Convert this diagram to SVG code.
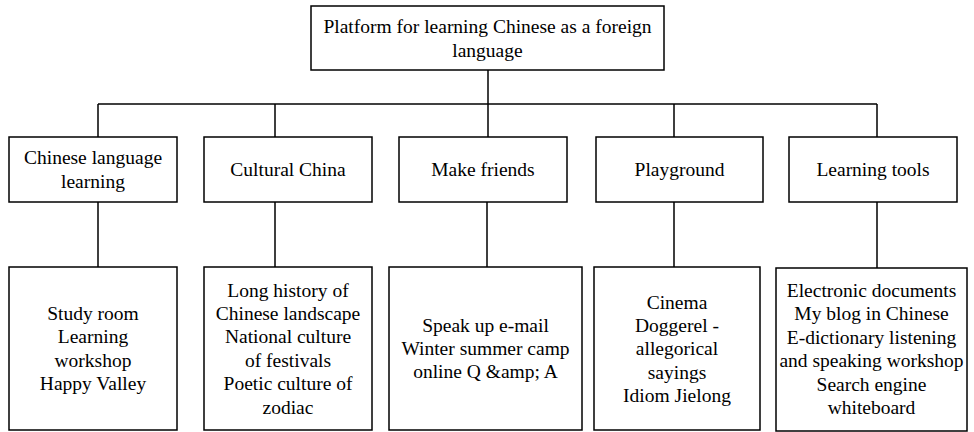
<svg xmlns="http://www.w3.org/2000/svg" width="974" height="432" viewBox="0 0 974 432" font-family="'Liberation Serif', serif" font-size="19.5">
  <style>
    .box { fill: #ffffff; stroke: #000000; stroke-width: 1.5; }
    .wire { fill: none; stroke: #000000; stroke-width: 1.5; }
    .t { font-family: 'Liberation Serif', serif; font-size: 19.5px; fill: #000000; text-anchor: middle; }
  </style>
  <rect x="0" y="0" width="974" height="432" fill="#ffffff"/>

  <!-- connectors -->
  <g id="connectors" class="wire">
    <path d="M488 70 V104"/>
    <path d="M98 104 H877"/>
    <path d="M98 104 V137 M275 104 V137 M488 104 V137 M674 104 V137 M877 104 V137"/>
    <path d="M98 202 V267 M275 202 V267 M487 202 V267 M674 202 V267 M877 202 V268"/>
  </g>

  <!-- root -->
  <g id="root" class="t">
    <rect class="box" x="311" y="6" width="353" height="64"/>
    <text x="487.5" y="33">Platform for learning Chinese as a foreign</text>
    <text x="487.5" y="57">language</text>
  </g>

  <!-- second level -->
  <g id="chinese-language-learning" class="t">
    <rect class="box" x="9" y="137" width="168" height="65"/>
    <text x="93" y="164">Chinese language</text>
    <text x="93" y="188">learning</text>
  </g>
  <g id="cultural-china" class="t">
    <rect class="box" x="204" y="137" width="168" height="65"/>
    <text x="288" y="176">Cultural China</text>
  </g>
  <g id="make-friends" class="t">
    <rect class="box" x="399" y="137" width="168" height="65"/>
    <text x="483" y="176">Make friends</text>
  </g>
  <g id="playground" class="t">
    <rect class="box" x="596" y="137" width="167" height="65"/>
    <text x="679.5" y="176">Playground</text>
  </g>
  <g id="learning-tools" class="t">
    <rect class="box" x="789" y="137" width="168" height="65"/>
    <text x="873" y="176">Learning tools</text>
  </g>

  <!-- third level -->
  <g id="study-items" class="t">
    <rect class="box" x="9" y="267" width="168" height="163"/>
    <text x="93" y="320">Study room</text>
    <text x="93" y="343.4">Learning</text>
    <text x="93" y="366.8">workshop</text>
    <text x="93" y="390.2">Happy Valley</text>
  </g>
  <g id="culture-items" class="t">
    <rect class="box" x="204" y="267" width="168" height="163"/>
    <text x="288" y="296.5">Long history of</text>
    <text x="288" y="319.9">Chinese landscape</text>
    <text x="288" y="343.3">National culture</text>
    <text x="288" y="366.7">of festivals</text>
    <text x="288" y="390.1">Poetic culture of</text>
    <text x="288" y="413.5">zodiac</text>
  </g>
  <g id="friends-items" class="t">
    <rect class="box" x="389" y="267" width="193" height="163"/>
    <text x="485.5" y="331.5">Speak up e-mail</text>
    <text x="485.5" y="354.9">Winter summer camp</text>
    <text x="485.5" y="378.3">online Q &amp;amp; A</text>
  </g>
  <g id="playground-items" class="t">
    <rect class="box" x="594" y="267" width="166" height="163"/>
    <text x="677" y="308.5">Cinema</text>
    <text x="677" y="331.9">Doggerel -</text>
    <text x="677" y="355.3">allegorical</text>
    <text x="677" y="378.7">sayings</text>
    <text x="677" y="402.1">Idiom Jielong</text>
  </g>
  <g id="tools-items" class="t">
    <rect class="box" x="776" y="268" width="191" height="163"/>
    <text x="871.5" y="297">Electronic documents</text>
    <text x="871.5" y="320.4">My blog in Chinese</text>
    <text x="871.5" y="343.8">E-dictionary listening</text>
    <text x="871.5" y="367.2">and speaking workshop</text>
    <text x="871.5" y="390.6">Search engine</text>
    <text x="871.5" y="414">whiteboard</text>
  </g>
</svg>
